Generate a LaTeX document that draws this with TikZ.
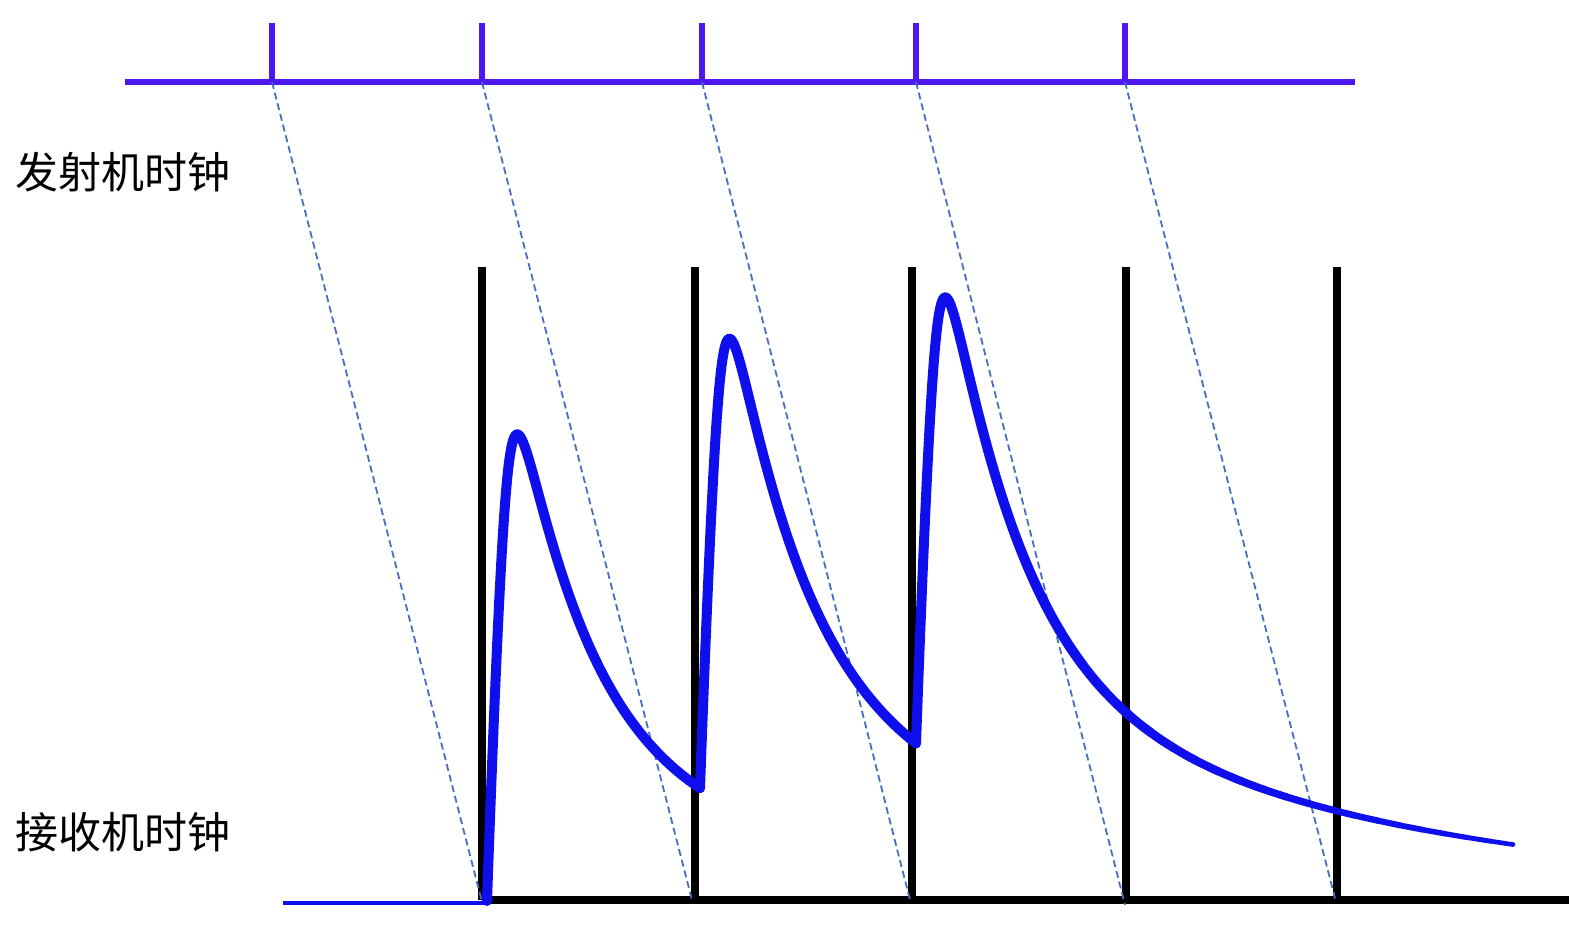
\documentclass[tikz,border=0pt]{standalone}
\usepackage{fontspec}
\newfontfamily\cjk{Noto Sans CJK SC}
\definecolor{tickpurple}{RGB}{78,22,240}
\definecolor{pulseblue}{RGB}{15,15,238}
\definecolor{dashblue}{RGB}{72,110,192}
\tikzset{
  txclock/.style={draw=tickpurple, line width=6.5pt},
  rxtick/.style={draw=black, line width=7.5pt},
  skew/.style={draw=dashblue, line width=1.8pt, dash pattern=on 7pt off 4pt},
  pulse/.style={draw=pulseblue, line width=10pt, line join=round, line cap=round},
  label/.style={inner sep=0pt, font=\cjk\fontsize{43}{50}\selectfont},
  declare function={
    gg(\t)=582*exp(-\t/77)+130*exp(-\t/400);
    ss(\t)=min(max(\t,0)/25,5);
    rr(\t)=ss(\t)/sqrt(sqrt(1+ss(\t)*ss(\t)*ss(\t)*ss(\t)));
    pp(\t)=gg(max(\t,0))*rr(\t);
    hh(\x)=pp(\x-487)+pp(\x-700)+pp(\x-916);
  }
}
\begin{document}
\begin{tikzpicture}[x=1pt, y=-1pt]
\useasboundingbox (0,0) rectangle (1569,928);
% transmitter clock
\coordinate (tL) at (125,82);
\coordinate (tR) at (1355,82);
\foreach \n/\x in {1/272,2/482,3/702,4/916,5/1125}{
  \coordinate (tb\n) at (\x,82);
  \coordinate (tt\n) at (\x,23);
}
\draw[txclock] (tL) -- (tR);
\foreach \n in {1,...,5}{ \draw[txclock] (tb\n) -- (tt\n); }
% receiver clock
\foreach \n/\x in {1/482,2/695,3/912,4/1126,5/1337}{
  \coordinate (rb\n) at (\x,900);
  \coordinate (rt\n) at (\x,267);
}
\coordinate (rR) at (1569,900);
\foreach \n in {1,...,5}{ \draw[rxtick] (rb\n) -- (rt\n); }
\draw[rxtick] (rb1) -- (rR);
% skew lines
\coordinate (d1) at (482,902);
\coordinate (d2) at (692,900);
\coordinate (d3) at (910,900);
\coordinate (d4) at (1125,905);
\coordinate (d5) at (1336,902);
\foreach \n in {1,...,5}{ \draw[skew] (tb\n) -- (d\n); }
% labels
\node[label] (tx) at (123,172) {发射机时钟};
\node[label] (rx) at (123,832) {接收机时钟};
% pulse response
\coordinate (b0) at (283,903);
\coordinate (b1) at (487,903);
\draw[pulseblue, line width=4pt] (b0) -- (b1);
\draw[pulse] plot[domain=487:700, samples=320] (\x,{901-hh(\x)});
\draw[pulse] plot[domain=700:916, samples=320] (\x,{901-hh(\x)});
\draw[pulse] plot[domain=916:1060, samples=240] (\x,{901-hh(\x)});
\foreach \i in {0,...,19}{
  \pgfmathsetmacro{\xa}{1060+\i*22.65}
  \pgfmathsetmacro{\xb}{\xa+22.65}
  \pgfmathsetmacro{\lw}{10-\i*0.28}
  \draw[pulse, line width=\lw pt] plot[domain=\xa:\xb, samples=8] (\x,{901-hh(\x)});
}
\end{tikzpicture}
\end{document}
